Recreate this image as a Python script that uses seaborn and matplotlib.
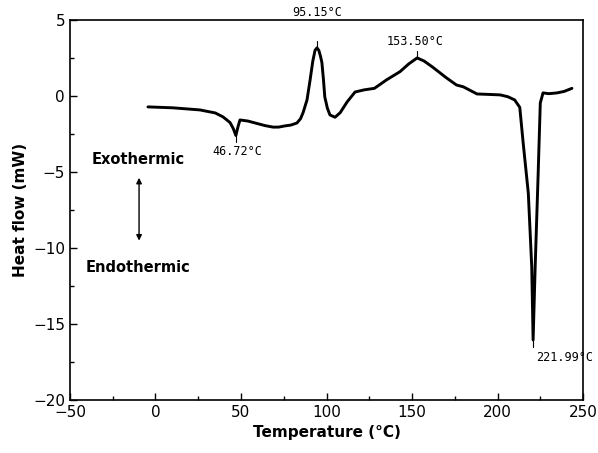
import matplotlib
matplotlib.use("Agg")
import matplotlib.pyplot as plt
import seaborn as sns
import pandas as pd
from matplotlib.ticker import MultipleLocator

temperature = [-4.4, 10, 26, 35, 39.5, 43.6, 45.5, 47.0, 48.3, 49.4, 54, 59, 64, 68.7, 72, 75.7, 79, 82.7,
               84.8, 86.3, 88.6, 90.4, 92.0, 93.3, 94.4, 95.5, 96.5, 97.3, 98.2, 99.0, 100.5, 102, 105, 108, 112, 116.7, 122, 128,
               135, 143, 148, 153, 157, 162, 170, 176, 180, 188, 195, 201.5, 206, 210, 213,
               215, 218, 220, 220.8, 222, 223.7, 225, 226.6, 230, 234.8, 239, 243.5]
heat_flow = [-0.72, -0.78, -0.92, -1.12, -1.38, -1.75, -2.15, -2.6, -2.0, -1.58, -1.65, -1.8, -1.95, -2.05, -2.05, -1.97, -1.92, -1.78,
             -1.5, -1.1, -0.26, 1.05, 2.3, 3.0, 3.16, 3.0, 2.6, 2.2, 1.1, -0.07, -0.8, -1.25, -1.4, -1.1, -0.4, 0.26, 0.4, 0.5,
             1.05, 1.6, 2.1, 2.5, 2.3, 1.9, 1.2, 0.72, 0.6, 0.13, 0.1, 0.07, -0.05, -0.26, -0.75,
             -3.1, -6.4, -11.25, -16.05, -11.25, -5.3, -0.46, 0.2, 0.15, 0.2, 0.3, 0.5]

peak_labels = ["46.72°C", "95.15°C", "153.50°C", "221.99°C"]
peak_x = [47.0, 94.4, 153.0, 220.8]
peak_y = [-2.6, 3.16, 2.5, -16.05]
peak_label_x = [47.6, 94.4, 151.8, 239.5]
peak_label_y = [-3.68, 5.5, 3.55, -17.2]

x_ticks = [-50, 0, 50, 100, 150, 200, 250]
y_ticks = [5, 0, -5, -10, -15, -20]

df = pd.DataFrame({"T": temperature, "H": heat_flow})

sns.set_style("white")
plt.rcParams["font.family"] = ["DejaVu Sans"]
plt.rcParams["text.color"] = "black"
plt.rcParams["axes.labelcolor"] = "black"

fig = plt.figure(figsize=(5.98, 4.53), dpi=100)
ax = fig.add_axes([0.117, 0.117, 0.858, 0.839])
sns.lineplot(data=df, x="T", y="H", sort=False, color="black", linewidth=2.1, ax=ax)

ax.set_xlim(-50, 250)
ax.set_ylim(-20, 5)
ax.set_xticks(x_ticks)
ax.set_yticks(y_ticks)
ax.set_xticklabels(["\u221250", "0", "50", "100", "150", "200", "250"])
ax.set_yticklabels(["5", "0", "\u22125", "\u221210", "\u221215", "\u221220"])
ax.xaxis.set_minor_locator(MultipleLocator(25))
ax.yaxis.set_minor_locator(MultipleLocator(2.5))
ax.tick_params(which="both", direction="in", bottom=True, left=True, top=False, right=False,
               labelsize=11, colors="black")
ax.tick_params(which="major", length=5, width=1)
ax.tick_params(which="minor", length=3, width=1)
for s in ax.spines.values():
    s.set_color("black")
    s.set_linewidth(1.2)

ax.set_xlabel("Temperature (°C)", fontsize=11, fontweight="bold")
ax.set_ylabel("Heat flow (mW)", fontsize=11, fontweight="bold")

for lab, lx, ly, px, py in zip(peak_labels, peak_label_x, peak_label_y, peak_x, peak_y):
    ax.text(lx, ly, lab, ha="center", va="center", fontsize=8.5, family="DejaVu Sans Mono", clip_on=False)

# small marker ticks at the labelled peaks
for px, py, d in zip(peak_x, peak_y, [-1, 1, 1, -1]):
    ax.plot([px, px], [py, py + d * 0.45], color="black", lw=0.8)

ax.text(-10.4, -4.2, "Exothermic", ha="center", va="center", fontsize=10.5, fontweight="bold")
ax.text(-10.4, -11.3, "Endothermic", ha="center", va="center", fontsize=10.5, fontweight="bold")
ax.annotate("", xy=(-9.6, -5.2), xytext=(-9.6, -9.7),
            arrowprops=dict(arrowstyle="<|-|>", color="black", lw=1, mutation_scale=8))

fig.savefig("out.png", dpi=100)
